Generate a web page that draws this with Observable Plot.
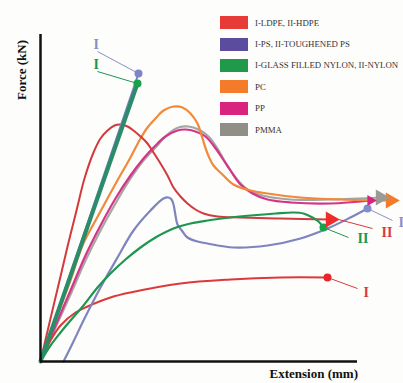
<!DOCTYPE html>
<html>
<head>
<meta charset="utf-8">
<script src="https://cdn.jsdelivr.net/npm/d3@7"></script>
<script src="https://cdn.jsdelivr.net/npm/@observablehq/plot@0.6"></script>
<style>
  html, body { margin: 0; padding: 0; background: #fdfdfb; }
  #wrap { position: relative; width: 403px; height: 383px; overflow: hidden; }
  .lab { position: absolute; font-family: "Liberation Serif", serif; font-weight: bold; color: #111; white-space: nowrap; }
  #ylab { left: 22px; top: 70px; font-size: 13px; transform: translate(-50%, -50%) rotate(-90deg); }
  #xlab { right: 45px; top: 366px; font-size: 13px; }
  #legend { position: absolute; left: 220px; top: 12px; font-family: "Liberation Serif", serif; font-size: 8.8px; color: #333; }
  .row { display: flex; align-items: center; height: 21.4px; }
  .sw { width: 28px; height: 13px; margin-right: 7px; }
</style>
</head>
<body>
<div id="wrap">
  <div id="chart"></div>
  <div id="legend"></div>
  <div class="lab" id="ylab">Force (kN)</div>
  <div class="lab" id="xlab">Extension (mm)</div>
</div>
<script>
// Legend entries
const legendLabels = ["I-LDPE, II-HDPE", "I-PS, II-TOUGHENED PS", "I-GLASS FILLED NYLON, II-NYLON", "PC", "PP", "PMMA"];
const legendColors = ["#e63b36", "#5b4ca0", "#1f9a4a", "#f47b2a", "#d8237f", "#8f8f88"];

// Curves: [extension, force] (arbitrary units)
const ldpe = [[0,0],[5,11],[10,21],[20,36],[35,49],[47,55],[70,64],[90,69],[140,78],[190,82],[240,84],[287,84]];
const hdpe = [[0,0],[10,43],[20,85],[28,119],[36,151],[44,183],[53,209],[60,223],[67,231],[74,236],[80,237],[87,235],[93,231],[100,225],[107,218],[113,209],[120,198],[127,186],[133,174],[140,165],[147,158],[155,152],[163,148],[177,145],[200,144],[240,143],[290,142]];
const glassNylon = [[0,0],[97,278]];
const psI = [[0,0],[98,288]];
const nylon = [[0,0],[10,16],[20,29],[30,41],[43,56],[57,74],[70,88],[85,102],[100,114],[115,124],[133,133],[150,138],[167,141],[190,144],[210,146],[235,148],[253,149],[263,148],[272,144],[278,140],[283,134]];
const toughPS = [[23,0],[33,20],[43,41],[60,74],[77,104],[93,131],[110,151],[123,163],[128,164],[131,162],[133,157],[135,146],[137,137],[142,130],[147,124],[157,120],[167,118],[193,114],[227,116],[260,123],[287,133],[310,144],[327,153]];
const pc = [[0,0],[15,41],[30,81],[42,116],[55,141],[67,163],[78,183],[90,204],[100,223],[107,234],[115,243],[123,251],[133,255],[142,254],[150,248],[157,238],[162,223],[167,208],[173,196],[182,187],[193,177],[210,171],[227,168],[260,164],[300,162],[350,161]];
const pp = [[0,0],[15,36],[30,71],[45,106],[60,136],[75,163],[90,186],[103,203],[115,216],[125,225],[137,231],[145,232],[155,230],[165,225],[173,216],[182,203],[190,191],[200,177],[212,168],[227,162],[250,159],[290,158],[330,161]];
const pmma = [[0,0],[15,34],[30,67],[45,101],[60,131],[75,158],[90,183],[103,201],[115,214],[127,227],[138,234],[148,235],[158,232],[168,225],[177,213],[185,199],[195,184],[207,172],[222,166],[250,162],[290,162],[340,164]];

// Curve callouts: label text, leader end point and label point
const calloutText = ["I", "II", "II", "I", "I", "I"];
const calloutFrom = [[287,84],[298,142],[283,134],[327,153],[98,288],[97,278]];
const calloutTo = [[317,73],[332,133],[308,124],[352,141],[57,310],[57,290]];
const calloutAt = [[323,69],[341,129],[317,123],[358,139],[53,317],[53,297]];
const calloutColor = ["#d93a3c", "#d93a3c", "#1e9650", "#8a8fc6", "#8a8fc6", "#1e9650"];

const curveColor = {ldpe:"#dc3a3a", hdpe:"#d23a3e", glass:"#2a8c68", psI:"#7c82c0", nylon:"#1e9650", tps:"#7f84bf", pc:"#f2883a", pp:"#d4358a", pmma:"#a6a6a2"};

const X = d => d[0], Y = d => d[1];
const line = (pts, stroke, w) => Plot.line(pts, {x: X, y: Y, stroke, strokeWidth: w, curve: "catmull-rom"});
const last = a => [a[a.length - 1]];

const callouts = calloutText.map((t, i) => ({t, x1: calloutFrom[i][0], y1: calloutFrom[i][1], x2: calloutTo[i][0], y2: calloutTo[i][1], tx: calloutAt[i][0], ty: calloutAt[i][1], c: calloutColor[i]}));

const chart = Plot.plot({
  width: 403, height: 383,
  marginLeft: 40, marginRight: 46, marginTop: 34, marginBottom: 22,
  x: {domain: [0, 317], axis: null},
  y: {domain: [0, 327], axis: null},
  style: {background: "transparent"},
  marks: [
    line(pmma, curveColor.pmma, 2.2),
    line(pp, curveColor.pp, 2.2),
    line(pc, curveColor.pc, 2.2),
    line(ldpe, curveColor.ldpe, 2),
    line(hdpe, curveColor.hdpe, 2),
    line(toughPS, curveColor.tps, 2.2),
    line(nylon, curveColor.nylon, 2.2),
    line(psI, curveColor.psI, 2),
    line(glassNylon, curveColor.glass, 4),
    Plot.link(callouts, {x1: "x1", y1: "y1", x2: "x2", y2: "y2", stroke: "c", strokeWidth: 1}),
    Plot.text(callouts, {x: "tx", y: "ty", text: "t", fill: "c", fontFamily: "Liberation Serif", fontWeight: "bold", fontSize: 14, textAnchor: "start"}),
    Plot.dot(last(ldpe), {x: X, y: Y, r: 4, fill: "#e8262a"}),
    Plot.dot(last(nylon), {x: X, y: Y, r: 4, fill: "#16a34a"}),
    Plot.dot(last(toughPS), {x: X, y: Y, r: 4, fill: "#7f8fcc"}),
    Plot.dot(last(psI), {x: X, y: Y, r: 4, fill: "#7f86c8"}),
    Plot.dot(last(glassNylon), {x: X, y: Y, r: 4, fill: "#16a34a"}),
    Plot.dot(last(hdpe), {x: X, y: Y, r: 6, symbol: "triangle", rotate: 90, fill: "#ef2b2b"}),
    Plot.dot(last(pc), {x: X, y: Y, r: 6, symbol: "triangle", rotate: 90, fill: "#f47b2a"}),
    Plot.dot(last(pmma), {x: X, y: Y, r: 6, symbol: "triangle", rotate: 90, fill: "#9a9a96"}),
    Plot.dot(last(pp), {x: X, y: Y, r: 4, symbol: "triangle", rotate: 90, fill: "#d8237f"}),
    Plot.ruleY([0], {stroke: "#111", strokeWidth: 2.5}),
    Plot.ruleX([0], {stroke: "#111", strokeWidth: 2.5})
  ]
});
document.getElementById("chart").appendChild(chart);

const legend = document.getElementById("legend");
legendLabels.forEach((l, i) => {
  const row = document.createElement("div");
  row.className = "row";
  const sw = document.createElement("div");
  sw.className = "sw";
  sw.style.background = legendColors[i];
  const tx = document.createElement("span");
  tx.textContent = l;
  row.appendChild(sw); row.appendChild(tx);
  legend.appendChild(row);
});
</script>
</body>
</html>
